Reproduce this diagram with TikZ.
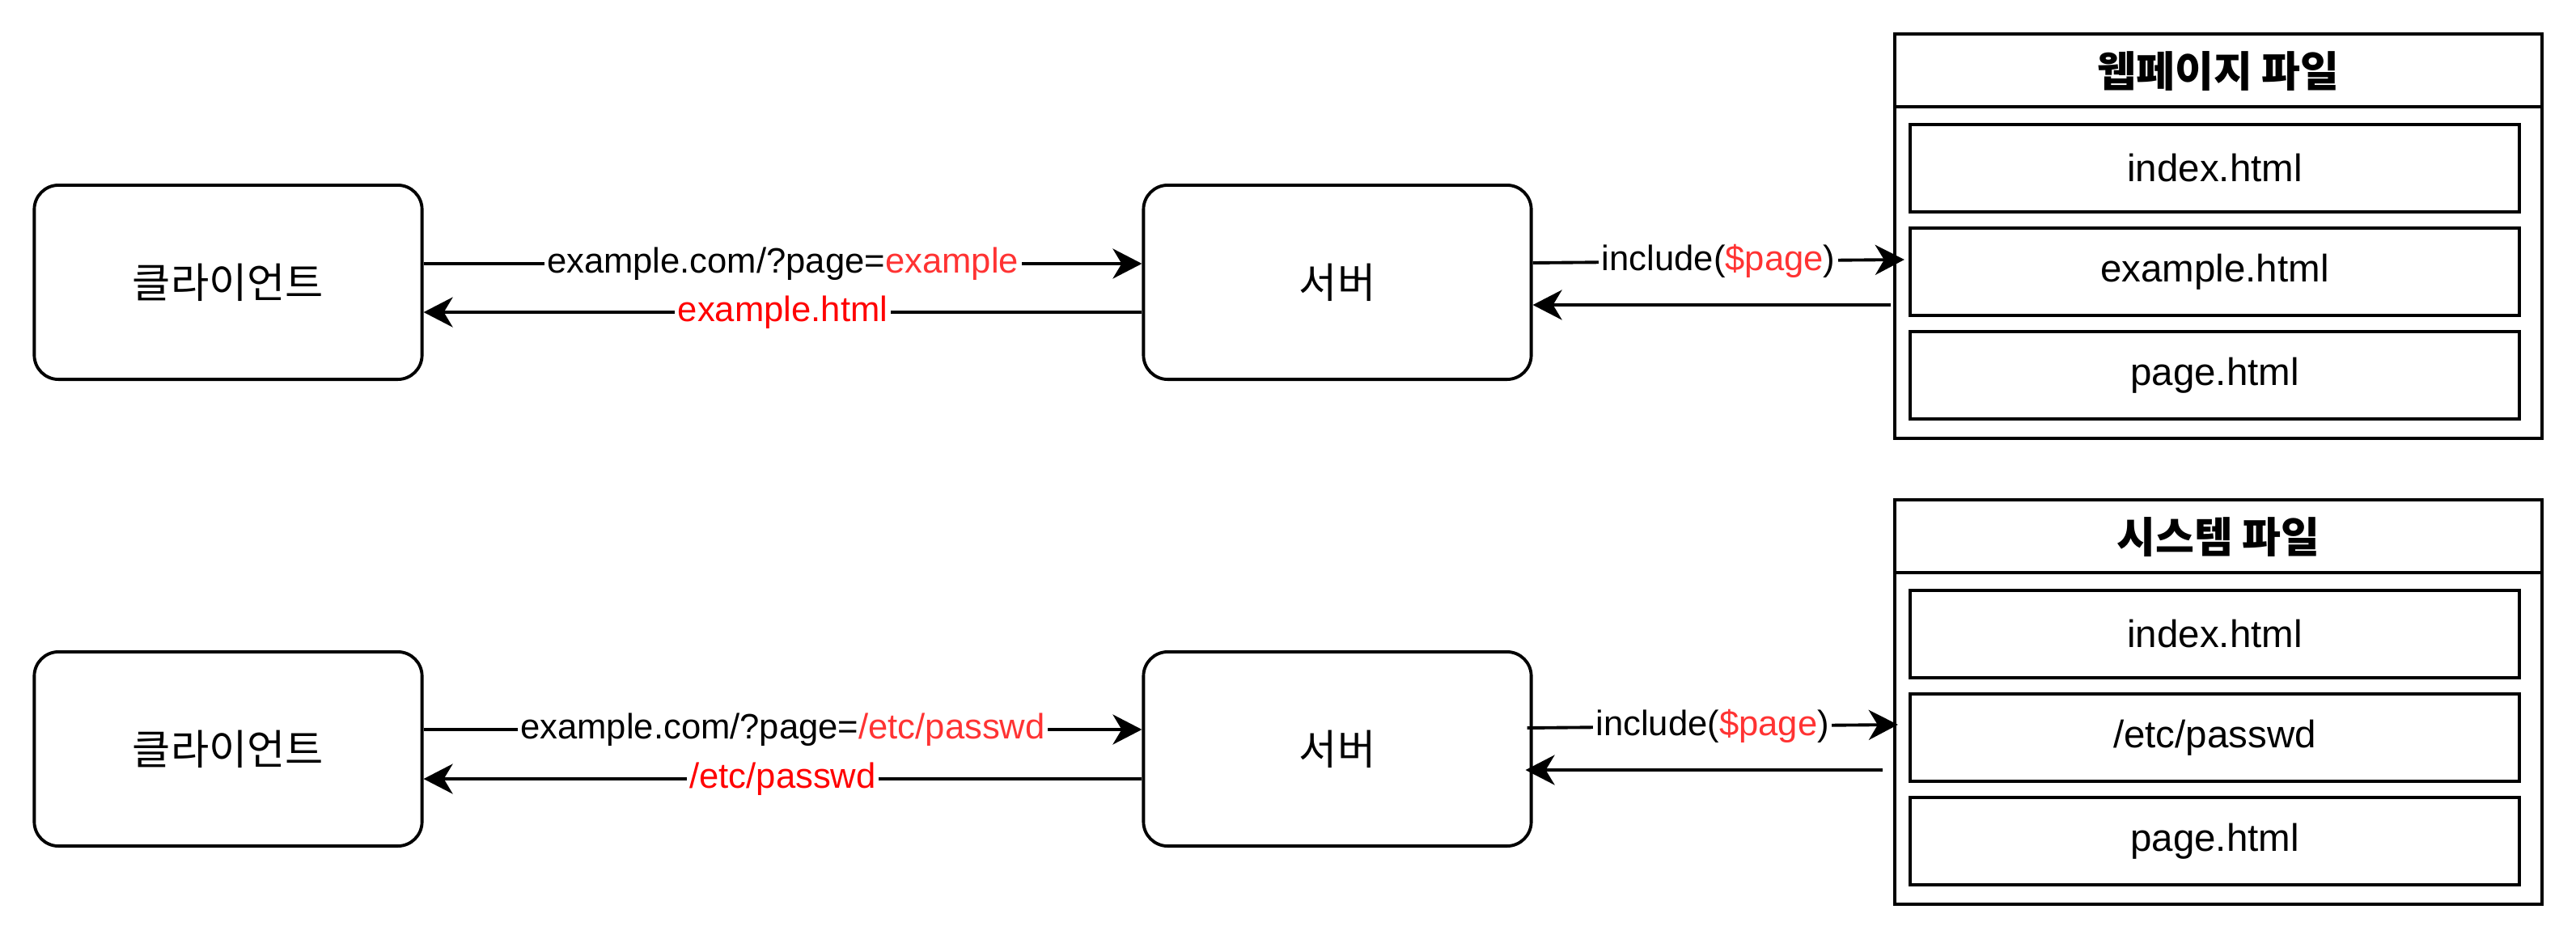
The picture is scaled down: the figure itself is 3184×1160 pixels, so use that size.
\documentclass[tikz,border=0pt]{standalone}
\usepackage{fontspec}
\setmainfont{Liberation Sans}
\newfontfamily\kr{Noto Sans CJK KR}
\usetikzlibrary{arrows.meta}
\definecolor{varred}{HTML}{FF3333}
\definecolor{resred}{HTML}{FF0000}

\begin{document}
\begin{tikzpicture}[x=0.01cm, y=0.01cm]
\tikzstyle{every node}+=[inner sep=0pt]
\tikzstyle{host}=[draw=black, line width=1.1pt, rounded corners=0.3cm, minimum width=4.79cm, minimum height=2.4cm, font=\fontsize{14.6}{17}\selectfont\kr]
\tikzstyle{folder}=[draw=black, line width=1.1pt, minimum width=8cm, minimum height=5cm]
\tikzstyle{file}=[draw=black, line width=1.1pt, minimum width=7.53cm, minimum height=1.08cm, font=\fontsize{13.5}{16}\selectfont]
\tikzstyle{title}=[font=\fontsize{14.8}{17}\selectfont\kr\bfseries]
\tikzstyle{link}=[black, line width=1.1pt, -{Stealth[length=0.36cm,width=0.37cm,inset=0.11cm]}]
\tikzstyle{tag}=[fill=white, inner sep=1pt, font=\fontsize{12.4}{15}\selectfont]
\useasboundingbox (0,0) rectangle (3184,-1160);

% normal request
\node [host] (client1) at (282.00,-349.00) {클라이언트};
\node [host] (server1) at (1653.00,-349.00) {서버};
\node [folder] (folder1) at (2742.00,-292.00) {};
\draw [black, line width=1.1pt] ([yshift=-0.92cm]folder1.north west) -- ([yshift=-0.92cm]folder1.north east);
\node [title] (title1) at (2742.00,-88.00) {웹페이지 파일};
\node [file] (index1) at (2737.50,-208.00) {index.html};
\node [file] (example1) at (2737.50,-336.00) {example.html};
\node [file] (page1) at (2737.50,-464.00) {page.html};
\draw [link] ([yshift=0.23cm]client1.east) -- node [tag] {example.com/?page=\textcolor{varred}{example}} ([yshift=0.23cm]server1.west);
\draw [link] ([yshift=-0.37cm]server1.west) -- node [tag] {\textcolor{resred}{example.html}} ([yshift=-0.37cm]client1.east);
\draw [link] ([yshift=0.24cm]server1.east) -- node [tag] {include(\textcolor{varred}{\$page})} ([xshift=-0.05cm,yshift=0.15cm]example1.west);
\draw [link] ([xshift=-0.03cm,yshift=-0.85cm]folder1.west) -- ([yshift=-0.28cm]server1.east);

% path traversal
\node [host] (client2) at (282.00,-926.00) {클라이언트};
\node [host] (server2) at (1653.00,-926.00) {서버};
\node [folder] (folder2) at (2742.00,-868.00) {};
\draw [black, line width=1.1pt] ([yshift=-0.92cm]folder2.north west) -- ([yshift=-0.92cm]folder2.north east);
\node [title] (title2) at (2742.00,-664.00) {시스템 파일};
\node [file] (index2) at (2737.50,-784.00) {index.html};
\node [file] (passwd2) at (2737.50,-912.00) {/etc/passwd};
\node [file] (page2) at (2737.50,-1040.00) {page.html};
\draw [link] ([yshift=0.24cm]client2.east) -- node [tag] {example.com/?page=\textcolor{varred}{/etc/passwd}} ([yshift=0.24cm]server2.west);
\draw [link] ([yshift=-0.37cm]server2.west) -- node [tag] {\textcolor{resred}{/etc/passwd}} ([yshift=-0.37cm]client2.east);
\draw [link] ([xshift=-0.07cm,yshift=0.26cm]server2.east) -- node [tag] {include(\textcolor{varred}{\$page})} ([xshift=-0.13cm,yshift=0.16cm]passwd2.west);
\draw [link] ([xshift=-0.13cm,yshift=-0.84cm]folder2.west) -- ([xshift=-0.09cm,yshift=-0.26cm]server2.east);
\end{tikzpicture}
\end{document}
